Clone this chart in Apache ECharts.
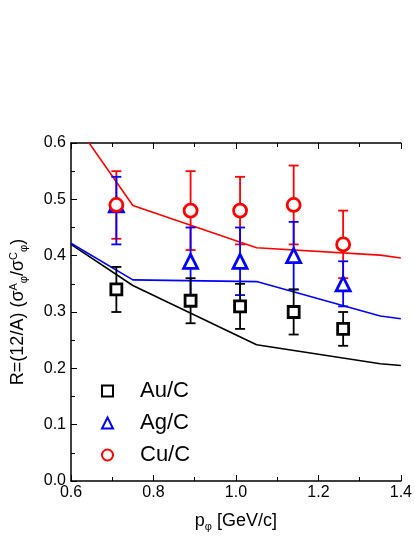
<!DOCTYPE html>
<html><head><meta charset="utf-8">
<script src="https://cdn.jsdelivr.net/npm/echarts@6/dist/echarts.min.js"></script>
<style>html,body{margin:0;padding:0;background:#fff}#c{width:415px;height:537px}</style>
</head><body><div id="c"></div>
<script>
var pX = [0.71, 0.89, 1.01, 1.14, 1.26];
var auY = [0.34, 0.32, 0.31, 0.30, 0.27];
var auLo = [0.30, 0.28, 0.27, 0.26, 0.24];
var auHi = [0.38, 0.36, 0.35, 0.34, 0.30];
var agY = [0.49, 0.39, 0.39, 0.40, 0.35];
var agLo = [0.42, 0.33, 0.33, 0.34, 0.31];
var agHi = [0.54, 0.45, 0.45, 0.46, 0.39];
var cuY = [0.49, 0.48, 0.48, 0.49, 0.42];
var cuLo = [0.43, 0.41, 0.42, 0.42, 0.36];
var cuHi = [0.55, 0.55, 0.54, 0.56, 0.48];
var curveX = [0.6, 0.75, 1.05, 1.35, 1.4];
var auCurve = [0.42, 0.347, 0.242, 0.208, 0.205];
var agCurve = [0.422, 0.357, 0.354, 0.293, 0.288];
var cuCurve = [0.646, 0.489, 0.414, 0.401, 0.396];

var FONT = 'Liberation Sans, Arial, sans-serif';
function pairs(xs, ys){ return xs.map(function(x,i){ return [x, ys[i]]; }); }
function errSeries(color, lo, hi){
  return {
    type: 'custom', silent: true, z: 3,
    data: pX.map(function(x,i){ return [x, lo[i], hi[i]]; }),
    renderItem: function(params, api){
      var a = api.coord([api.value(0), api.value(1)]);
      var b = api.coord([api.value(0), api.value(2)]);
      var w = 5, st = {stroke: color, lineWidth: 1.8};
      return {type:'group', children:[
        {type:'line', shape:{x1:a[0],y1:a[1],x2:b[0],y2:b[1]}, style:st},
        {type:'line', shape:{x1:a[0]-w,y1:a[1],x2:a[0]+w,y2:a[1]}, style:st},
        {type:'line', shape:{x1:b[0]-w,y1:b[1],x2:b[0]+w,y2:b[1]}, style:st}
      ]};
    }
  };
}
function curve(color, ys){
  return {type:'line', data: pairs(curveX, ys), symbol:'none', lineStyle:{color:color, width:1.6}, clip:true, silent:true, z:2};
}
function marker(name, color, symbol, size, ys){
  return {type:'scatter', name:name, data: pairs(pX, ys), symbol:symbol, symbolSize:size, z:5,
    itemStyle:{color:'#fff', borderColor:color, borderWidth:2.8, opacity:1}};
}
var chart = echarts.init(document.getElementById('c'));
chart.setOption({
  animation:false,
  grid:{left:64, width:356, top:143, height:340, containLabel:false},
  legend:{
    left:96, top:375, orient:'vertical', itemGap:10, itemWidth:11, itemHeight:11,
    textStyle:{fontFamily:FONT, fontSize:22, color:'#000', padding:[0,0,0,22]},
    data:['Au/C','Ag/C','Cu/C']
  },
  xAxis:[{
    type:'value', min:0.6, max:1.4, interval:0.2,
    name:'{a|p}{s|φ}{a| [GeV/c]}', nameLocation:'middle', nameGap:30,
    nameTextStyle:{rich:{a:{fontFamily:FONT,fontSize:18,color:'#000'},s:{fontFamily:FONT,fontSize:11,color:'#000',padding:[10,0,0,0]}}},
    axisLine:{lineStyle:{color:'#000',width:1.5}},
    axisTick:{inside:true, length:6, lineStyle:{color:'#000'}},
    minorTick:{show:true, splitNumber:2, length:4, lineStyle:{color:'#000'}},
    axisLabel:{fontFamily:FONT, fontSize:16, color:'#000', margin:4, formatter:function(v){return v.toFixed(1);}},
    splitLine:{show:false}
  },{
    type:'value', position:'top', min:0.6, max:1.4, interval:0.2,
    axisLine:{lineStyle:{color:'#000',width:1.5}},
    axisTick:{inside:true, length:6, lineStyle:{color:'#000'}},
    minorTick:{show:true, splitNumber:2, length:4, lineStyle:{color:'#000'}},
    axisLabel:{show:false}, splitLine:{show:false}
  }],
  yAxis:{
    type:'value', min:0, max:0.6, interval:0.1,
    name:'{a|R=(12/A) (σ}{u|A}{d|φ}{a|/σ}{u|C}{d|φ}{a|)}', nameLocation:'middle', nameGap:42, nameRotate:90,
    nameTextStyle:{rich:{
      a:{fontFamily:FONT,fontSize:18,color:'#000'},
      u:{fontFamily:FONT,fontSize:11,color:'#000',padding:[0,0,10,0]},
      d:{fontFamily:FONT,fontSize:11,color:'#000',padding:[10,0,0,0]}}},
    axisLine:{show:true, lineStyle:{color:'#000',width:1.5}},
    axisTick:{inside:true, length:6, lineStyle:{color:'#000'}},
    minorTick:{show:true, splitNumber:2, length:4, lineStyle:{color:'#000'}},
    axisLabel:{fontFamily:FONT, fontSize:16, color:'#000', margin:5, formatter:function(v){return v.toFixed(1);}},
    splitLine:{show:false}
  },
  series:[
    curve('#000', auCurve), curve('#0000ff', agCurve), curve('#ff0000', cuCurve),
    errSeries('#ff0000', cuLo, cuHi), errSeries('#0000ff', agLo, agHi), errSeries('#000', auLo, auHi),
    marker('Au/C', '#000', 'rect', 11, auY),
    marker('Ag/C', '#0000ff', 'triangle', 14, agY),
    marker('Cu/C', '#ff0000', 'circle', 13, cuY)
  ]
});
</script></body></html>
